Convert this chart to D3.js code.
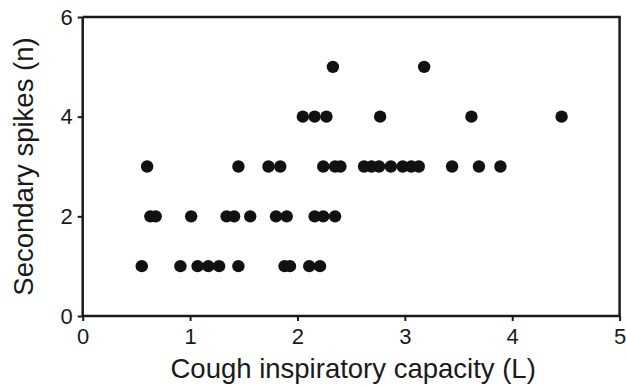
<!DOCTYPE html>
<html lang="en">
<head>
    <meta charset="UTF-8">
    <title>Secondary spikes vs cough inspiratory capacity</title>
    <script src="https://d3js.org/d3.v7.min.js"></script>
    <style>
        body { margin: 0; background: #fff; }
        svg text { font-family: "Liberation Sans", Arial, sans-serif; fill: #1a1a1a; }
    </style>
</head>
<body>
<div id="chart"></div>
<script>
// x values (L) grouped by number of secondary spikes
var spikes1 = [0.55, 0.91, 1.07, 1.17, 1.27, 1.45, 1.88, 1.93, 2.11, 2.21];
var spikes2 = [0.63, 0.68, 1.01, 1.34, 1.41, 1.56, 1.80, 1.90, 2.16, 2.24, 2.35];
var spikes3 = [0.60, 1.45, 1.73, 1.84, 2.24, 2.35, 2.40, 2.62, 2.69, 2.76, 2.87, 2.98, 3.06, 3.13, 3.44, 3.69, 3.89];
var spikes4 = [2.05, 2.16, 2.27, 2.77, 3.62, 4.46];
var spikes5 = [2.33, 3.18];

var xTicks = [0, 1, 2, 3, 4, 5];
var yTicks = [0, 2, 4, 6];

var width = 626, height = 386;

var svg = d3.select("#chart").append("svg")
    .attr("width", width)
    .attr("height", height);

var x = d3.scaleLinear().domain([0, 5]).range([82.7, 619.6]);
var y = d3.scaleLinear().domain([0, 6]).range([316, 17]);

// build points list
var points = [];
[spikes1, spikes2, spikes3, spikes4, spikes5].forEach(function(arr, i) {
    arr.forEach(function(v) { points.push({ x: v, n: i + 1 }); });
});

// box top + right
svg.append("path")
    .attr("d", "M" + x(0) + "," + y(6) + "H" + x(5) + "V" + y(0))
    .attr("fill", "none")
    .attr("stroke", "#1a1a1a")
    .attr("stroke-width", 2.5);

var xAxis = svg.append("g")
    .attr("transform", "translate(0," + y(0) + ")")
    .call(d3.axisBottom(x).tickValues(xTicks).tickFormat(d3.format("d")).tickSize(5).tickPadding(7));

var yAxis = svg.append("g")
    .attr("transform", "translate(" + x(0) + ",0)")
    .call(d3.axisLeft(y).tickValues(yTicks).tickFormat(d3.format("d")).tickSize(5).tickPadding(5));

[xAxis, yAxis].forEach(function(g) {
    g.select(".domain").attr("stroke", "#1a1a1a").attr("stroke-width", 2.5);
    g.selectAll(".tick line").attr("stroke", "#1a1a1a").attr("stroke-width", 2);
    g.selectAll(".tick text")
        .attr("font-size", 22)
        .attr("font-family", "Liberation Sans, Arial, sans-serif")
        .attr("fill", "#1a1a1a");
});
yAxis.select(".domain").attr("d", "M0," + y(6) + "V" + y(0));
xAxis.select(".domain").attr("d", "M" + x(0) + ",0H" + x(5));

// dots
svg.append("g").selectAll("circle")
    .data(points)
    .enter().append("circle")
    .attr("cx", function(d) { return x(d.x); })
    .attr("cy", function(d) { return y(d.n); })
    .attr("r", 6.2)
    .attr("fill", "#111");

// axis titles
svg.append("text")
    .attr("x", (x(0) + x(5)) / 2 + 2)
    .attr("y", 378)
    .attr("text-anchor", "middle")
    .attr("font-size", 27.5)
    .text("Cough inspiratory capacity (L)");

svg.append("text")
    .attr("transform", "translate(33," + (y(0) + y(6)) / 2 + ") rotate(-90)")
    .attr("text-anchor", "middle")
    .attr("font-size", 27.5)
    .text("Secondary spikes (n)");
</script>
</body>
</html>
